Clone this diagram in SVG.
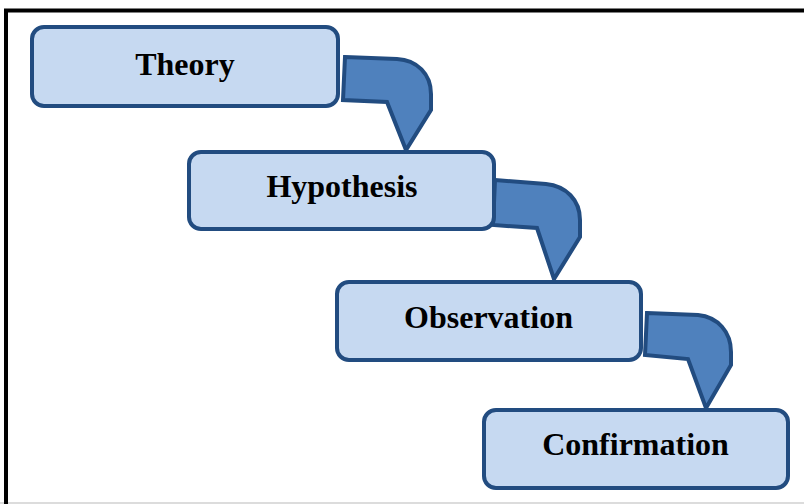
<svg xmlns="http://www.w3.org/2000/svg" width="804" height="504" viewBox="0 0 804 504">
<style>
.box{fill:#c6d9f1;stroke:#224c80;stroke-width:4}
.arr{fill:#4f81bd;stroke:#224c80;stroke-width:4;stroke-linejoin:miter}
.lbl{font-family:"Liberation Serif","Times New Roman",serif;font-weight:bold;font-size:32px;fill:#000;text-anchor:middle}
</style>
<rect x="0" y="0" width="804" height="504" fill="#fff"/>
<line x1="0" y1="503" x2="804" y2="503" stroke="#dcdcdc" stroke-width="2"/>
<rect x="6" y="10.5" width="810" height="510" fill="none" stroke="#000" stroke-width="4"/>
<g id="connectors">
<path class="arr" d="M345,57 L397,59 C417,60 431,74 431,94 L431,110 L406,150 L387,102 L343,100 Z"/>
<path class="arr" d="M495,180 L546,184 C566,186 580,200 580,220 L580,237 L554,279 L537,228 L493,225 Z"/>
<path class="arr" d="M647,313 L698,315 C718,317 731,332 731,352 L731,365 L706,408 L688,359 L645,355 Z"/>
</g>
<g id="theory">
<rect class="box" x="32" y="27" width="306" height="79" rx="12"/>
<text class="lbl" x="185" y="75">Theory</text>
</g>
<g id="hypothesis">
<rect class="box" x="189" y="152" width="305" height="77" rx="12"/>
<text class="lbl" x="342" y="197">Hypothesis</text>
</g>
<g id="observation">
<rect class="box" x="337" y="282" width="304" height="78" rx="12"/>
<text class="lbl" x="488.5" y="328">Observation</text>
</g>
<g id="confirmation">
<rect class="box" x="484" y="410" width="304" height="78" rx="12"/>
<text class="lbl" x="635.5" y="455">Confirmation</text>
</g>
</svg>
